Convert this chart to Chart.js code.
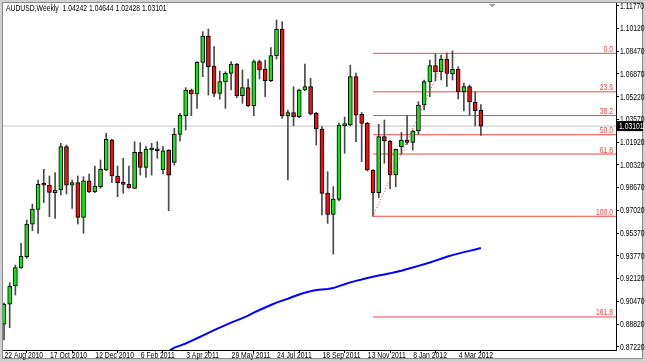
<!DOCTYPE html>
<html><head><meta charset="utf-8">
<script src="https://cdn.jsdelivr.net/npm/chart.js@4.4.1/dist/chart.umd.min.js"></script>
<style>html,body{margin:0;padding:0;background:#fff;overflow:hidden}</style>
</head><body><canvas id="c" width="645" height="362"></canvas>
<script>
const symbolTitle = 'AUDUSD,Weekly';
const dateLabels = ['22 Aug 2010','17 Oct 2010','12 Dec 2010','6 Feb 2011','3 Apr 2011','29 May 2011','24 Jul 2011','18 Sep 2011','13 Nov 2011','8 Jan 2012','4 Mar 2012'];
const dateLabelIndex = [0,8,16,24,32,40,48,56,64,72,80];
const priceTicks = [1.1177,1.1012,1.0847,1.0687,1.0522,1.0357,1.0192,1.0032,0.9867,0.9702,0.9537,0.9377,0.9212,0.9047,0.8882,0.8722];

const opens = [
0.8885,0.9029,0.9159,0.9291,0.9370,0.9605,0.9711,0.9890,0.9884,0.9831,
0.9850,1.0162,0.9884,0.9903,0.9653,0.9917,0.9838,0.9874,0.9994,1.0210,
0.9951,0.9908,0.9891,0.9862,1.0121,1.0013,1.0138,1.0143,0.9994,1.0138,
1.0049,1.0251,1.0385,1.0570,1.0541,1.0769,1.0959,1.0743,1.0546,1.0630,
1.0690,1.0757,1.0529,1.0587,1.0457,1.0774,1.0721,1.0637,1.0817,1.1009,
1.0385,1.0407,1.0378,1.0570,1.0594,1.0402,1.0289,0.9826,0.9675,0.9783,
1.0313,1.0318,1.0666,1.0395,1.0330,0.9994,0.9831,1.0234,1.0203,0.9958,
1.0162,1.0210,1.0193,1.0275,1.0462,1.0630,1.0745,1.0702,1.0791,1.0685,
1.0719,1.0558,1.0594,1.0481,1.04242];
const highs = [
0.9036,0.9183,0.9310,0.9466,0.9634,0.9749,0.9922,0.9999,0.9951,0.9975,
1.0186,1.0174,0.9922,0.9951,0.9946,0.9965,1.0023,1.0066,1.0258,1.0215,
1.0023,1.0078,1.0023,1.0198,1.0191,1.0162,1.0186,1.0198,1.0162,1.0140,
1.0294,1.0402,1.0587,1.0577,1.0774,1.0990,1.1009,1.0882,1.0707,1.0702,
1.0774,1.0762,1.0714,1.0649,1.0786,1.0786,1.0786,1.0875,1.1074,1.1062,
1.0426,1.0594,1.0577,1.0757,1.0654,1.0409,1.0306,0.9982,0.9874,1.0332,
1.0376,1.0750,1.0692,1.0409,1.0337,0.9998,1.0323,1.0354,1.0207,1.0145,
1.0265,1.0385,1.0282,1.0486,1.0642,1.0786,1.0829,1.0822,1.0836,1.0851,
1.0738,1.0620,1.0606,1.0556,1.04644];
const lows = [
0.8770,0.8859,0.9094,0.9286,0.9358,0.9557,0.9538,0.9759,0.9658,0.9646,
0.9814,0.9821,0.9718,0.9605,0.9538,0.9831,0.9831,0.9862,0.9989,0.9903,
0.9802,0.9826,0.9862,0.9860,0.9958,0.9941,0.9958,1.0078,0.9965,0.9701,
1.0030,1.0203,1.0282,1.0385,1.0438,1.0666,1.0534,1.0522,1.0503,1.0438,
1.0570,1.0515,1.0474,1.0450,1.0385,1.0649,1.0522,1.0630,1.0793,1.0366,
0.9922,1.0313,1.0371,1.0563,1.0390,1.0174,0.9670,0.9610,0.9389,0.9771,
1.0114,1.0313,1.0198,1.0054,0.9987,0.9661,0.9795,1.0042,0.9857,0.9874,
1.0107,1.0179,1.0138,1.0251,1.0426,1.0522,1.0635,1.0642,1.0595,1.0642,
1.0505,1.0419,1.0390,1.0311,1.02428];
const closes = [
0.9029,0.9159,0.9291,0.9375,0.9605,0.9713,0.9891,0.9884,0.9833,0.9850,
1.0162,0.9884,0.9903,0.9653,0.9917,0.9838,0.9879,0.9999,1.0215,0.9951,
0.9903,0.9891,0.9867,1.0121,1.0013,1.0143,1.0143,1.0133,1.0133,0.9956,
1.0253,1.0390,1.0570,1.0541,1.0769,1.0959,1.0738,1.0546,1.0630,1.0690,
1.0757,1.0529,1.0587,1.0457,1.0774,1.0714,1.0637,1.0817,1.1009,1.0385,
1.0407,1.0378,1.0570,1.0594,1.0397,1.0289,0.9826,0.9675,0.9785,1.0318,
1.0327,1.0666,1.0390,1.0330,0.9994,0.9831,1.0234,1.0203,0.9958,1.0143,
1.0210,1.0193,1.0275,1.0462,1.0630,1.0745,1.0702,1.0791,1.0689,1.0719,
1.0558,1.0594,1.0484,1.0422,1.03101];

const maStart = 29;
const maValues = [0.8690,0.8715,0.8730,0.8745,0.8764,0.8783,0.8802,0.8821,0.8841,0.8859,
0.8877,0.8895,0.8911,0.8928,0.8946,0.8967,0.8986,0.9004,0.9022,0.9039,
0.9054,0.9067,0.9083,0.9098,0.9111,0.9121,0.9130,0.9134,0.9137,0.9144,
0.9158,0.9172,0.9185,0.9196,0.9206,0.9217,0.9226,0.9234,0.9242,0.9250,
0.9260,0.9269,0.9281,0.9292,0.9304,0.9316,0.9328,0.9342,0.9355,0.9370,
0.9381,0.9392,0.9403,0.9412,0.9422,0.9432];

const fibLabels = ['0.0','23.6','38.2','50.0','61.8','100.0','161.8'];
const fibValues = [1.0834,1.0557,1.0386,1.0248,1.0109,0.9661,0.8936];
const fibFromIndex = 65, fibToIndex = 78;
const lastPrice = 1.03101;

const X_MIN = -0.18, X_MAX = 107.8, Y_MIN = 0.86982, Y_MAX = 1.11964;
const FONT = "8.5px 'Liberation Sans',Arial,sans-serif";
const SQUEEZE = 0.8;
const bull = '#10e810', bear = '#ee1010';

const idx = opens.map((_, i) => i);
const wickData = idx.map(i => ({x: i, y: [lows[i], highs[i]]}));
const bodyData = idx.map(i => ({x: i, y: [opens[i], closes[i]]}));
const bodyColors = idx.map(i => closes[i] >= opens[i] ? bull : bear);
const maData = maValues.map((v, k) => ({x: maStart + k, y: v}));

const lineBase = {type: 'line', pointRadius: 0, borderWidth: 1, tension: 0, fill: false};
const fibSets = fibValues.map(v => Object.assign({}, lineBase, {
  data: [{x: fibFromIndex, y: v}, {x: X_MAX, y: v}], borderColor: '#f04848', order: 10}));

function txt(c, s, x, y, align, base) {
  c.save(); c.translate(x, y); c.scale(SQUEEZE, 1);
  c.textAlign = align; c.textBaseline = base; c.fillText(s, 0, 0); c.restore();
}

const framePlugin = {
  id: 'frame',
  beforeDraw(chart) {
    const c = chart.ctx;
    c.save();
    c.fillStyle = '#d0d0d0'; c.fillRect(0, 0, 645, 362);
    c.fillStyle = '#ffffff'; c.fillRect(3, 3, 639, 355);
    c.strokeStyle = '#8a8a8a'; c.lineWidth = 1;
    c.strokeRect(2.5, 2.5, 640, 356);
    c.restore();
  },
  afterDraw(chart) {
    const c = chart.ctx, a = chart.chartArea, ys = chart.scales.y, xs = chart.scales.x;
    const n = opens.length - 1;
    c.save();
    c.font = FONT;
    c.fillStyle = '#000';
    txt(c, symbolTitle + '  ' + opens[n].toFixed(5) + ' ' + highs[n].toFixed(5) + ' ' + lows[n].toFixed(5) + ' ' + closes[n].toFixed(5), 6, 9, 'left', 'middle');
    xs.ticks.forEach(t => {
      const k = dateLabelIndex.indexOf(t.value);
      if (k >= 0) txt(c, dateLabels[k], xs.getPixelForValue(t.value) + 0.5, 357.5, 'left', 'alphabetic');
    });
    ys.ticks.forEach(t => txt(c, Number(t.value).toFixed(5), a.right + 4, ys.getPixelForValue(t.value) + 0.5, 'left', 'middle'));
    c.fillStyle = '#f04848';
    fibValues.forEach((v, k) => txt(c, fibLabels[k], a.right - 3, ys.getPixelForValue(v) - 1.5, 'right', 'alphabetic'));
    const py = ys.getPixelForValue(lastPrice);
    c.fillStyle = '#000'; c.fillRect(a.right + 1, py - 5, 26, 10);
    c.fillStyle = '#fff';
    txt(c, lastPrice.toFixed(5), a.right + 3, py + 0.5, 'left', 'middle');
    const tx = xs.getPixelForValue(n + 2);
    c.fillStyle = '#a0a0a0';
    c.beginPath(); c.moveTo(tx - 3.5, a.top + 1); c.lineTo(tx + 3.5, a.top + 1); c.lineTo(tx, a.top + 4.5); c.closePath(); c.fill();
    c.restore();
  }
};

new Chart(document.getElementById('c'), {
  data: {
    datasets: [
      Object.assign({}, lineBase, {data: [{x: X_MIN, y: lastPrice}, {x: X_MAX, y: lastPrice}], borderColor: '#c4c4c4', order: 11}),
      ...fibSets,
      {type: 'bar', data: wickData, backgroundColor: '#4a4a4a', barThickness: 1, grouped: false, order: 6},
      {type: 'bar', data: bodyData, backgroundColor: bodyColors, borderColor: '#000', borderWidth: 1, borderSkipped: false, barThickness: 4, minBarLength: 2, grouped: false, order: 5},
      Object.assign({}, lineBase, {data: [{x: fibFromIndex, y: fibValues[5]}, {x: fibToIndex, y: fibValues[0]}], borderColor: '#ff4040', borderDash: [1, 2], order: 3}),
      Object.assign({}, lineBase, {data: maData, borderColor: '#0000ff', borderWidth: 2, order: 1})
    ]
  },
  options: {
    responsive: false, animation: false, devicePixelRatio: 1,
    layout: {padding: {left: 3, top: 3, right: 3, bottom: 4}},
    plugins: {legend: {display: false}, tooltip: {enabled: false}},
    scales: {
      x: {
        type: 'linear', min: X_MIN, max: X_MAX, offset: false,
        afterBuildTicks: s => { s.ticks = dateLabelIndex.map(v => ({value: v})); },
        afterFit: s => { s.height = 8; s.paddingLeft = 0; s.paddingRight = 0; },
        ticks: {display: false, autoSkip: false, maxRotation: 0, minRotation: 0},
        grid: {display: true, drawOnChartArea: false, drawTicks: true, tickLength: 3, color: '#000'},
        border: {display: true, color: '#000'}
      },
      y: {
        type: 'linear', position: 'right', min: Y_MIN, max: Y_MAX,
        afterBuildTicks: s => { s.ticks = priceTicks.map(v => ({value: v})); },
        afterFit: s => { s.width = 26; s.paddingTop = 0; s.paddingBottom = 0; },
        ticks: {display: false, autoSkip: false},
        grid: {display: true, drawOnChartArea: false, drawTicks: true, tickLength: 3, color: '#000'},
        border: {display: true, color: '#000'}
      }
    }
  },
  plugins: [framePlugin]
});
</script></body></html>
